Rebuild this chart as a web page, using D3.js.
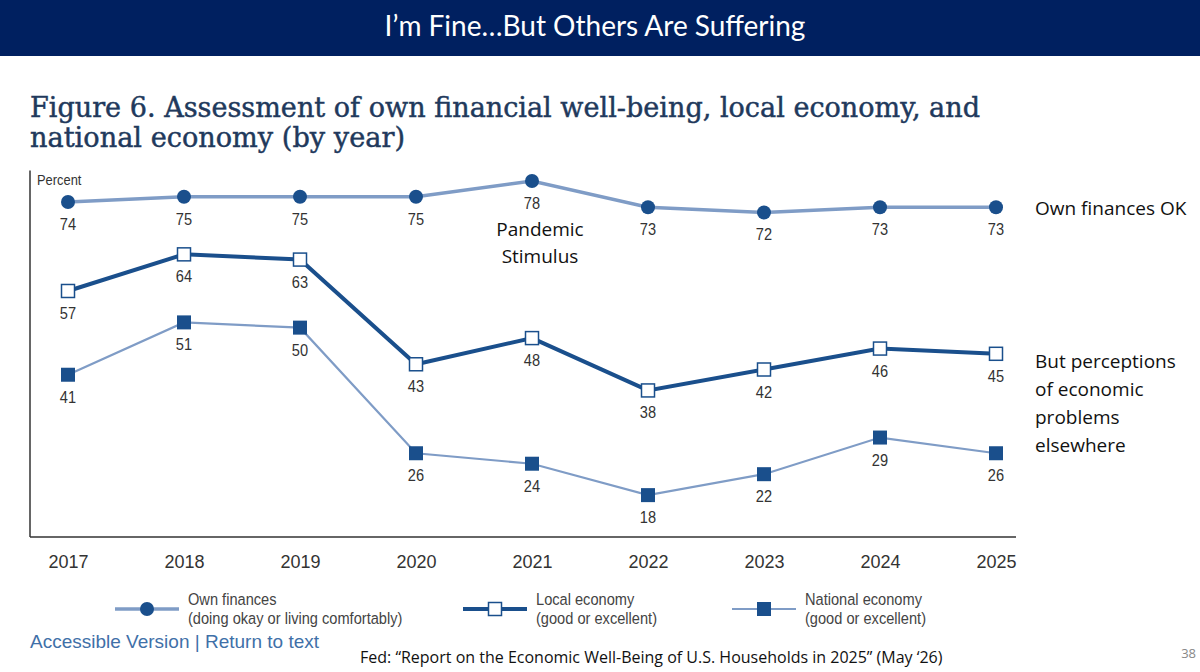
<!DOCTYPE html>
<meta charset="utf-8">
<script src="https://d3js.org/d3.v7.min.js"></script>
<style>
  body { margin: 0; background: #fff; }
</style>
<div id="chart"></div>
<script>

// data
const years = ["2017", "2018", "2019", "2020", "2021", "2022", "2023", "2024", "2025"];
const ownFinances = [74, 75, 75, 75, 78, 73, 72, 73, 73];
const localEconomy = [57, 64, 63, 43, 48, 38, 42, 46, 45];
const nationalEconomy = [41, 51, 50, 26, 24, 18, 22, 29, 26];
const rightNote = ["But perceptions", "of economic", "problems", "elsewhere"];

const W = 1200, H = 672;
const light = "#7f9cc6", dark = "#1a4f8c";
const sans = "'Liberation Sans', Arial, sans-serif";
const calibri = "'Open Sans', sans-serif";
const squeeze = 0.86;   // fakes the narrow face of the original

const svg = d3.select("#chart").append("svg")
    .attr("width", W)
    .attr("height", H);

// top banner
svg.append("rect").attr("x", 0).attr("y", 0).attr("width", W).attr("height", 56).attr("fill", "#002060");
svg.append("text")
    .attr("x", 595).attr("y", 36)
    .attr("text-anchor", "middle")
    .style("font-family", "Lato, sans-serif").style("font-size", "28px").style("fill", "#fff")
    .text("I’m Fine…But Others Are Suffering");

// figure title
const title = svg.append("g")
    .style("font-family", "'DejaVu Serif', serif")
    .style("font-size", "27px")
    .style("fill", "#21395c")
    .style("stroke", "#21395c")
    .style("stroke-width", "0.45px");
title.append("text").attr("x", 30).attr("y", 117)
    .attr("textLength", 950).attr("lengthAdjust", "spacingAndGlyphs")
    .text("Figure 6. Assessment of own financial well-being, local economy, and");
title.append("text").attr("x", 30).attr("y", 147)
    .attr("textLength", 375).attr("lengthAdjust", "spacingAndGlyphs")
    .text("national economy (by year)");

// scales
const x = d3.scalePoint().domain(years).range([68, 996]);
const y = d3.scaleLinear().domain([10, 80]).range([537, 170.6]);

// frame
svg.append("line").attr("x1", 30).attr("x2", 30).attr("y1", y(80)).attr("y2", y(10))
    .attr("stroke", "#333").attr("stroke-width", 1.5);
svg.append("line").attr("x1", 30).attr("x2", 1016).attr("y1", y(10)).attr("y2", y(10))
    .attr("stroke", "#333").attr("stroke-width", 1.5);

function narrowText(sel, px, py, size, fill, anchor) {
  return sel.append("text")
      .attr("transform", `translate(${px},${py}) scale(${squeeze},1)`)
      .attr("text-anchor", anchor || "start")
      .style("font-family", sans)
      .style("font-size", size + "px")
      .style("fill", fill);
}

narrowText(svg, 37, 185, 15, "#333").text("Percent");

// x axis labels
const xAxis = svg.append("g")
    .attr("transform", `translate(0, ${y(10)})`)
    .call(d3.axisBottom(x).tickSize(0).tickPadding(18));
xAxis.select(".domain").remove();
xAxis.selectAll("text")
    .style("font-family", sans)
    .style("font-size", "18px")
    .style("fill", "#333");

const line = d3.line()
    .x((d, i) => x(years[i]))
    .y(d => y(d));

function labels(values) {
  const g = svg.append("g");
  values.forEach((d, i) => {
    narrowText(g, x(years[i]), y(d) + 28, 17, "#333", "middle").text(d);
  });
}

// national economy
svg.append("path").datum(nationalEconomy)
    .attr("fill", "none").attr("stroke", light).attr("stroke-width", 2.2)
    .attr("d", line);
svg.append("g").selectAll("rect")
    .data(nationalEconomy)
    .join("rect")
      .attr("x", (d, i) => x(years[i]) - 7)
      .attr("y", d => y(d) - 7)
      .attr("width", 14).attr("height", 14)
      .attr("fill", dark);
labels(nationalEconomy);

// local economy
svg.append("path").datum(localEconomy)
    .attr("fill", "none").attr("stroke", dark).attr("stroke-width", 4)
    .attr("d", line);
svg.append("g").selectAll("rect")
    .data(localEconomy)
    .join("rect")
      .attr("x", (d, i) => x(years[i]) - 6.5)
      .attr("y", d => y(d) - 6.5)
      .attr("width", 13).attr("height", 13)
      .attr("fill", "#fff").attr("stroke", dark).attr("stroke-width", 1.5);
labels(localEconomy);

// own finances
svg.append("path").datum(ownFinances)
    .attr("fill", "none").attr("stroke", light).attr("stroke-width", 3.5)
    .attr("d", line);
svg.append("g").selectAll("circle")
    .data(ownFinances)
    .join("circle")
      .attr("cx", (d, i) => x(years[i]))
      .attr("cy", d => y(d))
      .attr("r", 7)
      .attr("fill", dark);
labels(ownFinances);

// annotations
const note = svg.append("g")
    .style("font-family", calibri).style("font-size", "19px").style("fill", "#111");
note.append("text").attr("x", 540).attr("y", 236).attr("text-anchor", "middle").text("Pandemic");
note.append("text").attr("x", 540).attr("y", 263).attr("text-anchor", "middle").text("Stimulus");
note.append("text").attr("x", 1035).attr("y", 215).text("Own finances OK");
rightNote.forEach((t, i) => {
  note.append("text").attr("x", 1035).attr("y", 368 + i * 28).text(t);
});

// legend
const legend = [
  {name: "Own finances", sub: "(doing okay or living comfortably)", x: 115, stroke: light, sw: 3.5, mark: "circle"},
  {name: "Local economy", sub: "(good or excellent)", x: 463, stroke: dark, sw: 4, mark: "open"},
  {name: "National economy", sub: "(good or excellent)", x: 732, stroke: light, sw: 2.2, mark: "filled"}
];
const lg = svg.append("g").selectAll("g").data(legend).join("g")
    .attr("transform", d => `translate(${d.x}, 609)`);
lg.append("line").attr("x1", 0).attr("x2", 64)
    .attr("stroke", d => d.stroke).attr("stroke-width", d => d.sw);
lg.each(function(d) {
  const g = d3.select(this);
  if (d.mark === "circle") {
    g.append("circle").attr("cx", 32).attr("r", 7).attr("fill", dark);
  } else if (d.mark === "open") {
    g.append("rect").attr("x", 25.5).attr("y", -6.5).attr("width", 13).attr("height", 13)
        .attr("fill", "#fff").attr("stroke", dark).attr("stroke-width", 1.5);
  } else {
    g.append("rect").attr("x", 25).attr("y", -7).attr("width", 14).attr("height", 14).attr("fill", dark);
  }
  narrowText(g, 73, -4, 17, "#444").text(d.name);
  narrowText(g, 73, 15, 17, "#444").text(d.sub);
});

// footer
svg.append("text").attr("x", 30).attr("y", 648)
    .style("font-family", sans).style("font-size", "19px").style("fill", "#3f70a8")
    .text("Accessible Version | Return to text");
svg.append("text").attr("x", 360).attr("y", 663)
    .style("font-family", calibri).style("font-size", "16px").style("fill", "#111")
    .text("Fed: “Report on the Economic Well-Being of U.S. Households in 2025” (May ‘26)");
svg.append("text").attr("x", 1196).attr("y", 658).attr("text-anchor", "end")
    .style("font-family", calibri).style("font-size", "13px").style("fill", "#888")
    .text("38");

</script>
